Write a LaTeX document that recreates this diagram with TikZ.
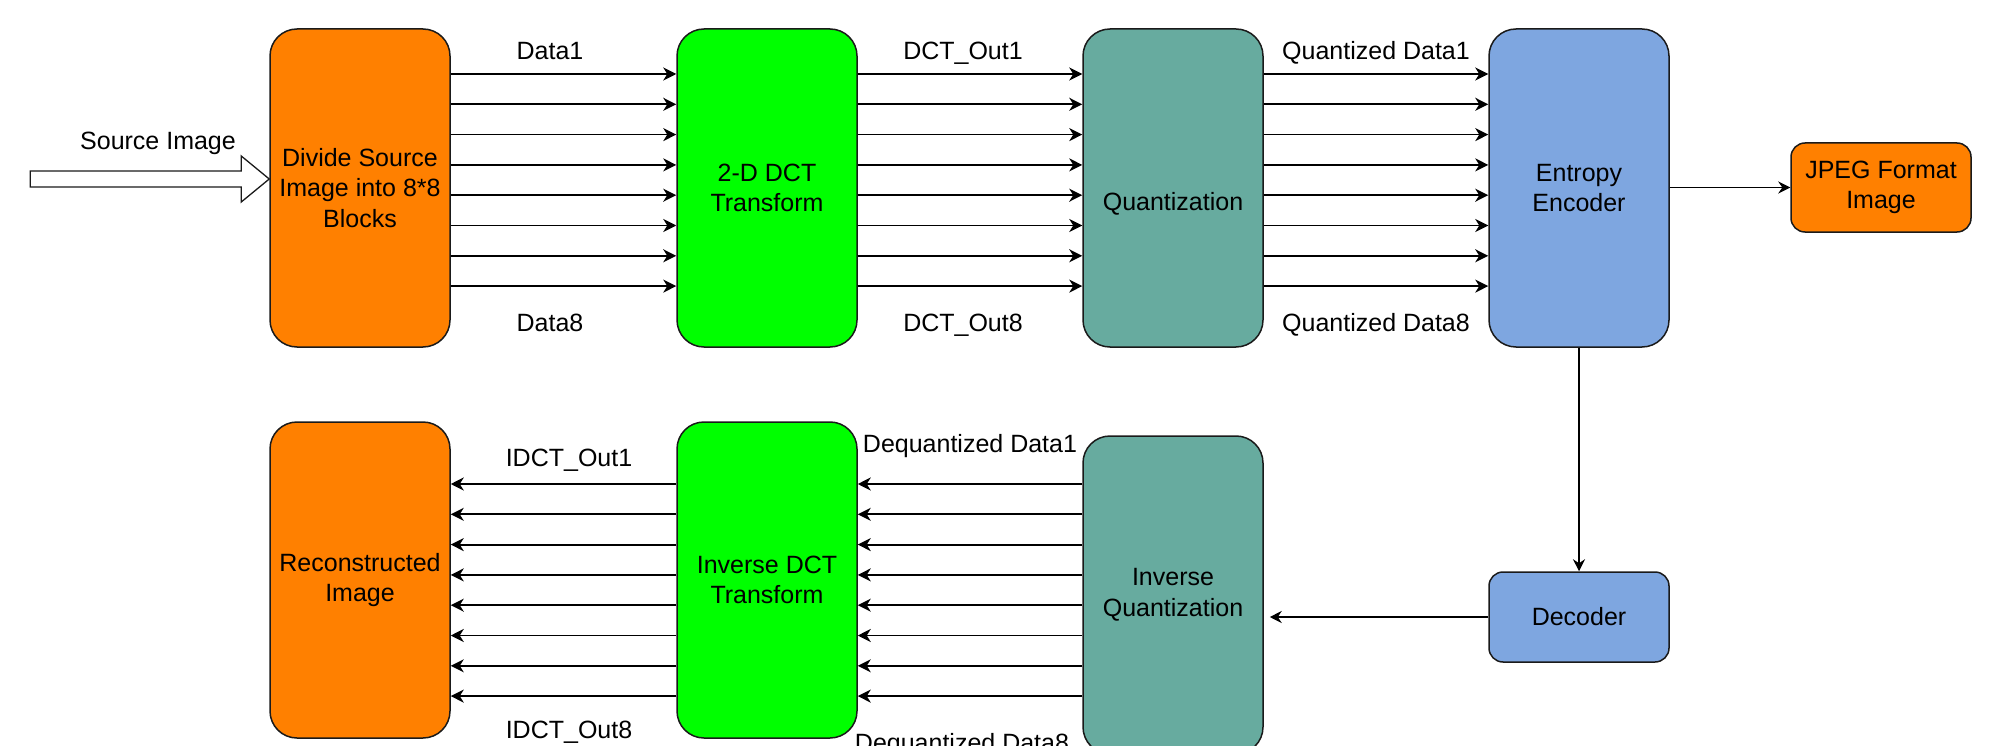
\documentclass[tikz,border=0pt]{standalone}
\usepackage{fontspec}
\setmainfont{Liberation Sans}
\usetikzlibrary{arrows.meta}

\definecolor{orangeblk}{HTML}{FF8000}
\definecolor{greenblk}{HTML}{00FF00}
\definecolor{tealblk}{HTML}{67AB9F}
\definecolor{blueblk}{HTML}{7EA6E0}
\definecolor{edge}{HTML}{1A1A1A}

\tikzset{
  blk/.style={draw=edge, line width=1.5pt, rounded corners=27pt,
    minimum width=180pt, align=center, inner sep=0pt,
    font=\fontsize{25}{30.5}\selectfont},
  tall/.style={blk, minimum height=318pt},
  short/.style={blk, rounded corners=14pt, minimum height=89pt},
  lbl/.style={anchor=base, inner sep=0pt, font=\fontsize{25}{30}\selectfont},
  bus/.style={line width=1.8pt, -{Stealth[length=13pt,width=13pt,inset=4pt]}},
  link/.style={line width=1.5pt, -{Stealth[length=12pt,width=12pt,inset=4pt]}}
}

\begin{document}
\begin{tikzpicture}[x=1pt, y=-1pt]
\useasboundingbox (0,0) rectangle (1994,746);

% encoder chain
\node[tall, fill=orangeblk] (div) at (360,188) {Divide Source\\Image into 8*8\\Blocks};
\node[tall, fill=greenblk]  (dct) at (767,188) {2-D DCT\\Transform};
% single line set on the level of the second line of its neighbours
\node[tall, fill=tealblk, text height=50pt, text depth=4pt] (qnt) at (1173,188) {Quantization};
\node[tall, fill=blueblk]   (ent) at (1579,188) {Entropy\\Encoder};
\node[short, fill=orangeblk] (jpg) at (1881,187.5) {JPEG Format\\Image};

% decoder chain
\node[tall, fill=orangeblk, minimum height=316pt] (rec) at (360,580) {Reconstructed\\Image};
\node[tall, fill=greenblk, minimum height=316pt]  (idct) at (767,580) {Inverse DCT\\Transform};
\node[tall, fill=tealblk, minimum height=318pt]   (iq) at (1173,595) {Inverse\\Quantization};
\node[short, fill=blueblk, minimum height=90pt]   (dec) at (1579,617) {Decoder};

% source image input arrow
\coordinate (tip) at (div.west |- 0,179);
\draw[line width=1.3pt, draw=edge, fill=white]
  ([xshift=-239pt,yshift=-8pt]tip) -- ([xshift=-28pt,yshift=-8pt]tip)
  -- ([xshift=-28pt,yshift=-23pt]tip) -- (tip)
  -- ([xshift=-28pt,yshift=23pt]tip) -- ([xshift=-28pt,yshift=8pt]tip)
  -- ([xshift=-239pt,yshift=8pt]tip) -- cycle;
\node[lbl] (srclbl) at (158,150) {Source Image};

% parallel data buses
\foreach \i in {0,...,7}{
  \pgfmathsetmacro{\yt}{74+30.3*\i}
  \pgfmathsetmacro{\yb}{484+30.3*\i}
  \draw[bus] (div.east |- 0,\yt) -- (dct.west |- 0,\yt);
  \draw[bus] (dct.east |- 0,\yt) -- (qnt.west |- 0,\yt);
  \draw[bus] (qnt.east |- 0,\yt) -- (ent.west |- 0,\yt);
  \draw[bus] (iq.west |- 0,\yb) -- (idct.east |- 0,\yb);
  \draw[bus] (idct.west |- 0,\yb) -- (rec.east |- 0,\yb);
}

% bus labels
\node[lbl] (d1) at (550,60) {Data1};
\node[lbl] (d8) at (550,331) {Data8};
\node[lbl] (o1) at (963,60) {DCT\_Out1};
\node[lbl] (o8) at (963,331) {DCT\_Out8};
\node[lbl] (q1) at (1376,60) {Quantized Data1};
\node[lbl] (q8) at (1376,331) {Quantized Data8};
\node[lbl] (i1) at (569,466) {IDCT\_Out1};
\node[lbl] (i8) at (569,738) {IDCT\_Out8};
\node[lbl] (dq1) at (970,452) {Dequantized Data1};
\node[lbl] (dq8) at (962,751) {Dequantized Data8};

% single connections
\draw[link] (ent.east |- jpg.west) -- (jpg.west);
\draw[link] (ent.south) -- (dec.north);
\draw[link, shorten >=6pt] (dec.west) -- (iq.east |- dec.west);
\end{tikzpicture}
\end{document}
